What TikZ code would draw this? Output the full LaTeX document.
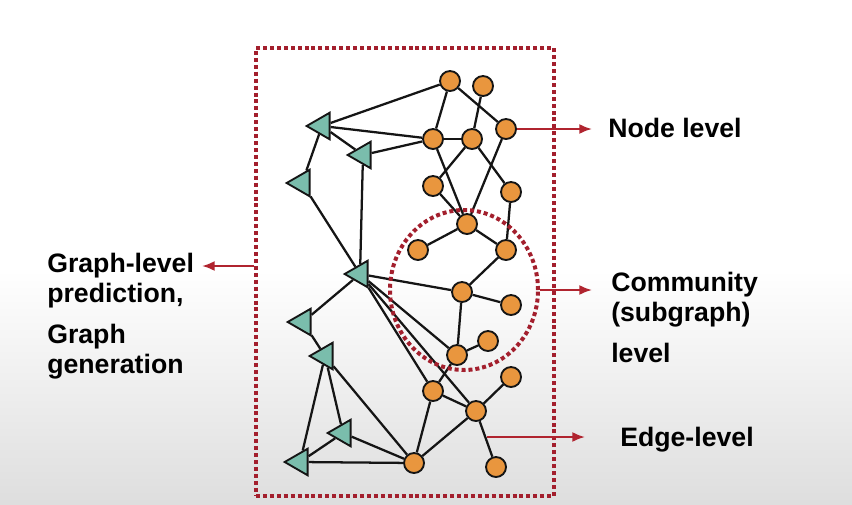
\documentclass[tikz,border=0pt]{standalone}
\usepackage{fontspec}
\setmainfont{Liberation Sans}
\usepackage{xcolor}
\usetikzlibrary{positioning,arrows.meta,calc,shapes.geometric}
\definecolor{Ink}{HTML}{151515}
\definecolor{Orng}{HTML}{E9963E}
\definecolor{Teal}{HTML}{7ABDAC}
\definecolor{Wine}{HTML}{A31F2D}
\definecolor{ArrR}{HTML}{B0242F}

\tikzset{
  onode/.style={
    circle,
    draw=Ink,
    fill=Orng,
    line width=1.4pt,
    minimum size=15pt,
    inner sep=0pt
  },
  tnode/.style={
    regular polygon,
    regular polygon sides=3,
    shape border rotate=90,
    draw=Ink,
    fill=Teal,
    line width=1.4pt,
    minimum size=23pt,
    inner sep=0pt
  },
  link/.style={
    Ink,
    line width=1.7pt
  },
  dotline/.style={
    draw=Wine,
    line width=3pt,
    dash pattern=on 3pt off 2.2pt
  },
  lvlarrow/.style={
    -{Latex[length=9.5pt,width=7.5pt]},
    ArrR,
    line width=1.6pt
  },
  lbl/.style={
    font=\fontsize{20}{22.5}\selectfont\bfseries,
    align=left,
    inner sep=0pt,
    anchor=base west
  }
}

\begin{document}
\begin{tikzpicture}[
  x=0.75pt,
  y=-0.75pt
]

\useasboundingbox (0,0) rectangle (852,504);
\fill[white] (0,0) rectangle (852,504);
\shade[top color=white, bottom color=black!13] (0,270) rectangle (852,504);

% orange nodes
\foreach \n/\x/\y in {
  o1/450/81, o2/483/86, o3/433/139, o4/472/139, o5/506/129,
  o6/433/186, o7/511/192, o8/467/224, o9/418/250, o10/506/250,
  o11/462/292, o12/511/305, o13/488/341, o14/457/355, o15/433/391,
  o16/511/377, o17/476/411, o18/414/463, o19/496/467}{
  \node[onode] (\n) at (\x,\y) {};
}

% triangles
\foreach \n/\x/\y in {
  t1/322/126, t2/363/155, t3/302/183, t4/360/274,
  t5/303/322, t6/325/356, t7/343/433, t8/300/462}{
  \node[tnode] (\n) at (\x,\y) {};
}

% edges
\foreach \a/\b in {
  o1/o3, o1/o5, o1/t1, o2/o4, o3/o4, o3/t1, o3/t2, o3/o8,
  o4/o6, o4/o7, o5/o8, o6/o8, o7/o10, o8/o9, o8/o10, o10/o11,
  o11/o12, o11/o14, o13/o14, o14/o15, o15/o17, o15/o18, o16/o17,
  o17/o18, o17/o19, t1/t2, t1/t3, t3/t4, t2/t4, t4/o11, t4/o14,
  t4/o15, t4/o17, t4/t5, t5/t6, t6/t7, t6/t8, t6/o18, t7/t8,
  t7/o18, t8/o18}{
  \draw[link] (\a) -- (\b);
}

% frames
\node[
  dotline,
  rectangle,
  minimum width=223.5pt,
  minimum height=336pt,
  inner sep=0pt
] (frame) at (405,272) {};

\node[
  dotline,
  ellipse,
  minimum width=111pt,
  minimum height=120pt,
  inner sep=0pt
] (comm) at (464,290) {};

% level arrows
\coordinate (ntip) at (592,129);
\coordinate (ctip) at (592,290);
\coordinate (etip) at (585,437);
\coordinate (gtip) at (202,266);
\coordinate (emid) at ($(o17)!0.55!(o19)$);

\draw[lvlarrow] (o5.east) -- (ntip);
\draw[lvlarrow] (comm.east) -- (ctip);
\draw[lvlarrow] (emid |- etip) -- (etip);
\draw[lvlarrow] (frame.west |- gtip) -- (gtip);

% labels
\node[lbl] (nlbl) at (608,137) {Node level};
\node[lbl] (clbl) at (611,362) {Community\\(subgraph)\\[8pt]level};
\node[lbl] (elbl) at (620,446) {Edge-level};
\node[lbl] (glbl) at (47,373) {Graph-level\\prediction,\\[8pt]Graph\\generation};

\end{tikzpicture}
\end{document}
